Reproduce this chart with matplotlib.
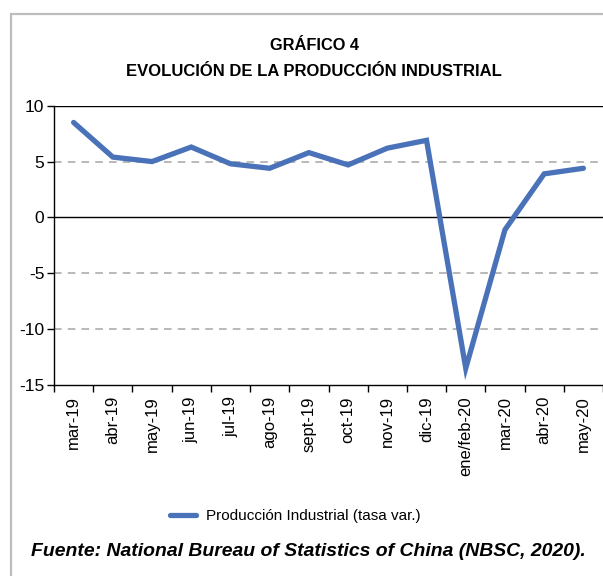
import matplotlib
matplotlib.use('Agg')
import matplotlib.pyplot as plt
from matplotlib.patches import Rectangle
from matplotlib.lines import Line2D

## Data
## ================================ ##
meses   = ['mar-19', 'abr-19', 'may-19', 'jun-19', 'jul-19', 'ago-19', 'sept-19',
           'oct-19', 'nov-19', 'dic-19', 'ene/feb-20', 'mar-20', 'abr-20', 'may-20']
tasa    = [8.5, 5.4, 5.0, 6.3, 4.8, 4.4, 5.8, 4.7, 6.2, 6.9, -13.5, -1.1, 3.9, 4.4]
yticks  = [10, 5, 0, -5, -10, -15]

plt.rcParams['font.family'] = ['Liberation Sans', 'DejaVu Sans']
azul    = '#4a72b8'

fig     = plt.figure(figsize=(6.03, 5.76), dpi=100)
# marco gris
fig.patches.append(Rectangle((11/603, -0.1), 1.2, 1 - 14/576 + 0.1, transform=fig.transFigure,
                             fill=False, edgecolor='#bdbdbd', linewidth=1.6))

ax      = fig.add_axes([54/603, 1 - 385/576, 1 - 54/603, (385 - 105.7)/576])
x       = list(range(len(meses)))
ax.plot(x, tasa, color=azul, linewidth=3.8, solid_capstyle='round', solid_joinstyle='miter', zorder=3)

ax.set_xlim(-0.5, len(meses) - 0.5)
ax.set_ylim(-15, 10)
ax.set_yticks(yticks)
ax.set_yticklabels([str(v) for v in yticks], fontsize=12.5)
for v in [5, -5, -10]:
    ax.axhline(v, color='#a6a6a6', linestyle=(0, (5, 4)), linewidth=1.1, zorder=1)
ax.axhline(0, color='black', linewidth=1.0, zorder=2)
ax.axhline(10, color='black', linewidth=1.0, zorder=2)

# ticks en los bordes de categoria, etiquetas en el centro
ax.set_xticks([i - 0.5 for i in range(len(meses) + 1)])
ax.set_xticklabels([])
ax.set_xticks(x, minor=True)
ax.set_xticklabels(meses, minor=True, rotation=90, fontsize=12)
ax.tick_params(axis='x', which='major', direction='out', length=5, width=1)
ax.tick_params(axis='x', which='minor', length=0, pad=8)
ax.tick_params(axis='y', direction='out', length=5, width=1, pad=2)

for s in ['top', 'right']:
    ax.spines[s].set_visible(False)
ax.spines['left'].set_linewidth(1.0)
ax.spines['bottom'].set_linewidth(1.0)

fig.text(314/603, 1 - 45/576, 'GRÁFICO 4', ha='center', va='center', fontsize=11.8, fontweight='bold')
fig.text(314/603, 1 - 72/576, 'EVOLUCIÓN DE LA PRODUCCIÓN INDUSTRIAL', ha='center', va='center',
         fontsize=12, fontweight='bold')

h       = Line2D([], [], color=azul, linewidth=3.8, solid_capstyle='round')
fig.legend([h], ['Producción Industrial (tasa var.)'], loc='center', bbox_to_anchor=(0.49, 1 - 516/576),
           frameon=False, fontsize=11, handlelength=1.7, handletextpad=0.7)

fig.text(31/603, 1 - 551/576, 'Fuente: National Bureau of Statistics of China (NBSC, 2020).',
         ha='left', va='center', fontsize=13.95, fontweight='bold', style='italic')

fig.savefig('out.png', dpi=100)
